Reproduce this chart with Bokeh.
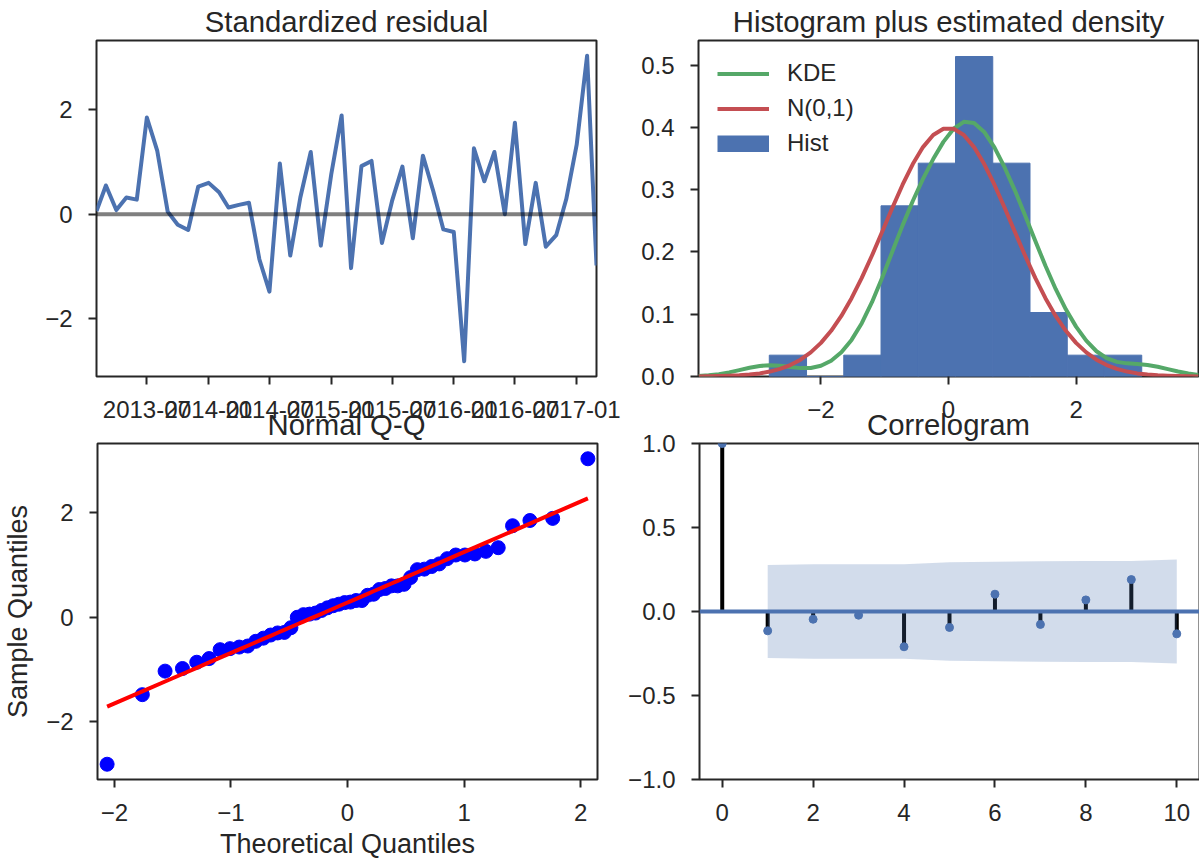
import numpy as np
import pandas as pd
from statistics import NormalDist
from bokeh.plotting import figure
from bokeh.layouts import column, row
from bokeh.models import FixedTicker, Legend, LegendItem, Range1d, Span
from bokeh.embed import file_html
from bokeh.resources import INLINE

# ---------------- data ----------------
FIRST_MONTH = "2013-02-01"
STD_RESID = [0.06, 0.55, 0.08, 0.32, 0.28, 1.85, 1.21, 0.05, -0.20, -0.30,
             0.53, 0.60, 0.42, 0.13, 0.18, 0.22, -0.86, -1.48, 0.97, -0.79,
             0.32, 1.19, -0.60, 0.76, 1.89, -1.03, 0.92, 1.02, -0.55, 0.25,
             0.91, -0.46, 1.12, 0.44, -0.29, -0.34, -2.81, 1.26, 0.63, 1.19,
             0.00, 1.75, -0.57, 0.60, -0.62, -0.40, 0.29, 1.33, 3.03, -0.98]
DATE_TICKS = ["2013-07", "2014-01", "2014-07", "2015-01",
              "2015-07", "2016-01", "2016-07", "2017-01"]
RESID_YTICKS = [-2, 0, 2]
HIST_BINS = 10
DENSITY_XLIM = 3.92
HIST_XTICKS = [-2, 0, 2]
HIST_YTICKS = [0.0, 0.1, 0.2, 0.3, 0.4, 0.5]
QQ_XTICKS = [-2, -1, 0, 1, 2]
QQ_YTICKS = [-2, 0, 2]
ACF_LAGS = [0, 1, 2, 3, 4, 5, 6, 7, 8, 9, 10]
ACF_VALUES = [1.0, -0.115, -0.046, -0.022, -0.21, -0.095, 0.103, -0.077, 0.069, 0.19, -0.133]
ACF_XTICKS = [0, 2, 4, 6, 8, 10]
ACF_YTICKS = [-1.0, -0.5, 0.0, 0.5, 1.0]
TITLES = ["Standardized residual", "Histogram plus estimated density", "Normal Q-Q", "Correlogram"]
LEGEND_LABELS = ["KDE", "N(0,1)", "Hist"]

# ---------------- style ----------------
FONT = "Liberation Sans"
DARK = "#262626"
BLUE = "#4C72B0"
GREEN = "#55A868"
RED = "#C44E52"
TITLE_SIZE = "29.3px"
LABEL_SIZE = "27px"
TICK_SIZE = "24px"
FW, FH = 500, 336
TOP_T, TOP_B = 39, 71          # top row: frames at y 39..375, figure 446 tall
OVERLAP = 26                   # bottom row starts at y 420, its top border is transparent
BOT_T, BOT_B = 22, 83          # bottom row: frames at y 442..778, ends at 861
L_LEFT, L_RIGHT = 96, 28
R_LEFT, R_RIGHT = 74, 1


def minus(s):
    return s.replace("-", "\u2212")


def make_fig(xr, yr, left, right, top, bottom, title=None, border=True, **kw):
    p = figure(frame_width=FW, frame_height=FH, x_range=xr, y_range=yr,
               min_border_left=left, min_border_right=right,
               min_border_top=top, min_border_bottom=bottom,
               output_backend="svg", toolbar_location=None, title=title, **kw)
    p.grid.visible = False
    p.outline_line_color = DARK
    p.outline_line_width = 2
    p.outline_line_alpha = 1
    p.background_fill_color = "white"
    p.border_fill_color = "white" if border else None
    if title is not None:
        p.title.text_font = FONT
        p.title.text_font_size = TITLE_SIZE
        p.title.text_font_style = "normal"
        p.title.text_color = DARK
        p.title.align = "center"
        p.title.standoff = 5
    return p


def style_axes(p, xticks, xlabels, yticks, ylabels):
    p.xaxis.ticker = FixedTicker(ticks=list(xticks))
    p.xaxis.major_label_overrides = dict(zip(xticks, xlabels))
    p.yaxis.ticker = FixedTicker(ticks=list(yticks))
    p.yaxis.major_label_overrides = dict(zip(yticks, ylabels))
    for ax in (p.xaxis[0], p.yaxis[0]):
        ax.axis_line_color = None
        ax.major_tick_line_color = DARK
        ax.major_tick_line_width = 2
        ax.major_tick_out = 8
        ax.major_tick_in = 0
        ax.minor_tick_line_color = None
        ax.major_label_text_font = FONT
        ax.major_label_text_font_size = TICK_SIZE
        ax.major_label_text_color = DARK
    p.xaxis.major_label_standoff = 16
    p.yaxis.major_label_standoff = 16


def axis_text(ax, text, size, standoff):
    ax.axis_label = text
    ax.axis_label_text_font = FONT
    ax.axis_label_text_font_size = size
    ax.axis_label_text_font_style = "normal"
    ax.axis_label_text_color = DARK
    ax.axis_label_standoff = standoff


resid = np.array(STD_RESID)
n = len(resid)
lo, hi = resid.min(), resid.max()
pad = 0.05 * (hi - lo)
ylo, yhi = lo - pad, hi + pad

# ---------------- 1: standardized residual ----------------
dates = pd.date_range(FIRST_MONTH, periods=n, freq="MS")
ms = np.array([d.value // 10**6 for d in dates], dtype=float)
tick_ms = [float(pd.Timestamp(t + "-01").value // 10**6) for t in DATE_TICKS]

p1 = make_fig(Range1d(ms[0], ms[-1]), Range1d(ylo, yhi), L_LEFT, L_RIGHT, TOP_T, TOP_B,
              title=TITLES[0], x_axis_type="datetime")
p1.line(ms, resid, line_color=BLUE, line_width=4, line_join="round")
p1.add_layout(Span(location=0, dimension="width", line_color="black",
                   line_alpha=0.5, line_width=4))
style_axes(p1, tick_ms, DATE_TICKS, RESID_YTICKS, [minus(str(v)) for v in RESID_YTICKS])
# the Q-Q panel's title sits in the gap, overlapping the date labels as in the reference
axis_text(p1.xaxis[0], TITLES[2], TITLE_SIZE, -13)

# ---------------- 2: histogram + density ----------------
hist, edges = np.histogram(resid, bins=HIST_BINS, density=True)
hist_top = hist.max() * 1.05
xs = np.linspace(-DENSITY_XLIM, DENSITY_XLIM, 50)
bw = resid.std(ddof=1) * n ** (-1 / 5)
kde = np.exp(-0.5 * ((xs[:, None] - resid[None, :]) / bw) ** 2).sum(axis=1) / (n * bw * np.sqrt(2 * np.pi))
npdf = np.exp(-0.5 * xs ** 2) / np.sqrt(2 * np.pi)

p2 = make_fig(Range1d(-DENSITY_XLIM, DENSITY_XLIM), Range1d(0, hist_top),
              R_LEFT, R_RIGHT, TOP_T, TOP_B, title=TITLES[1])
p2.quad(left=edges[:-1], right=edges[1:], top=hist, bottom=0,
        fill_color=BLUE, line_color=BLUE, line_width=1)
r_kde = p2.line(xs, kde, line_color=GREEN, line_width=4, line_join="round")
r_norm = p2.line(xs, npdf, line_color=RED, line_width=4, line_join="round")
# legend key for the histogram: a hidden thick line gives a full-size swatch
r_hist_key = p2.line(x=(edges[:-1] + edges[1:]) / 2, y=hist, line_color=BLUE,
                     line_width=17, visible=False)
style_axes(p2, HIST_XTICKS, [minus(str(v)) for v in HIST_XTICKS],
           HIST_YTICKS, [f"{v:.1f}" for v in HIST_YTICKS])
legend = Legend(items=[LegendItem(label=LEGEND_LABELS[0], renderers=[r_kde]),
                       LegendItem(label=LEGEND_LABELS[1], renderers=[r_norm]),
                       LegendItem(label=LEGEND_LABELS[2], renderers=[r_hist_key])],
                location="top_left", border_line_color=None, background_fill_alpha=0,
                label_text_font=FONT, label_text_font_size=TICK_SIZE, label_text_color=DARK,
                glyph_width=52, glyph_height=17, label_standoff=18, label_height=26,
                spacing=7, padding=10, margin=19, inactive_fill_alpha=0)
p2.add_layout(legend)
axis_text(p2.xaxis[0], TITLES[3], TITLE_SIZE, -13)

# ---------------- 3: normal Q-Q ----------------
nd = NormalDist()
theo = np.array([nd.inv_cdf(i / (n + 1)) for i in range(1, n + 1)])
sample = np.sort(resid)
qline = theo * sample.std() + sample.mean()
tpad = 0.02 * (theo.max() - theo.min())
p3 = make_fig(Range1d(theo.min() - tpad, theo.max() + tpad), Range1d(ylo, yhi),
              L_LEFT, L_RIGHT, BOT_T, BOT_B, border=False)
p3.scatter(theo, sample, size=14, fill_color="#0000FF", line_color="#0000FF")
p3.line(theo, qline, line_color="#FF0000", line_width=4)
style_axes(p3, QQ_XTICKS, [minus(str(v)) for v in QQ_XTICKS],
           QQ_YTICKS, [minus(str(v)) for v in QQ_YTICKS])
axis_text(p3.xaxis[0], "Theoretical Quantiles", LABEL_SIZE, 5)
axis_text(p3.yaxis[0], "Sample Quantiles", LABEL_SIZE, 10)

# ---------------- 4: correlogram ----------------
acf = np.array(ACF_VALUES)
lags = np.array(ACF_LAGS, dtype=float)
var = np.ones(len(acf)) / n
var[0] = 0
var[2:] *= 1 + 2 * np.cumsum(acf[1:-1] ** 2)
conf = 1.959964 * np.sqrt(var)
lag_pad = 0.05 * (lags.max() - lags.min())
p4 = make_fig(Range1d(lags.min() - lag_pad, lags.max() + lag_pad),
              Range1d(-1, 1), R_LEFT, R_RIGHT, BOT_T, BOT_B, border=False)
p4.segment(x0=lags, y0=np.zeros_like(acf), x1=lags, y1=acf, line_color="black", line_width=4)
p4.add_layout(Span(location=0, dimension="width", line_color=BLUE, line_width=4, level="glyph"))
p4.scatter(lags, acf, size=8, fill_color=BLUE, line_color=BLUE)
p4.varea(x=lags[1:], y1=-conf[1:], y2=conf[1:], fill_color=BLUE, fill_alpha=0.25)
style_axes(p4, ACF_XTICKS, [str(v) for v in ACF_XTICKS],
           ACF_YTICKS, [minus(f"{v:.1f}") for v in ACF_YTICKS])

layout = column(row(p1, p2),
                row(p3, p4, styles={"margin-top": f"-{OVERLAP}px"}))
open("out.html", "w").write(file_html(layout, INLINE))
